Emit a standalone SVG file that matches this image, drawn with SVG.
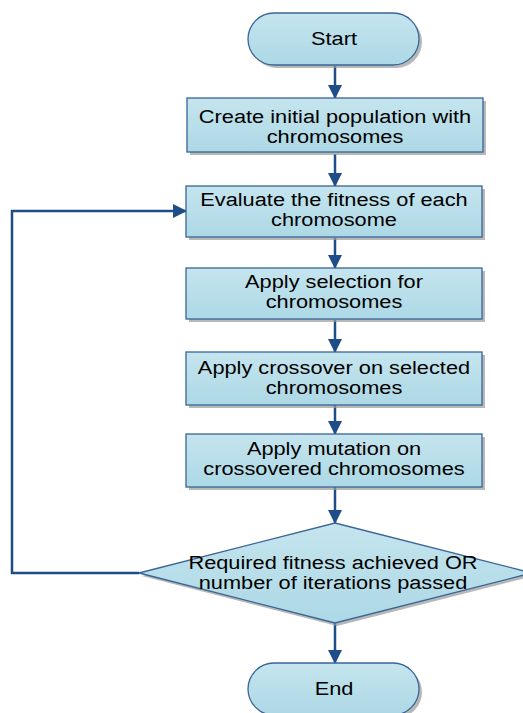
<svg xmlns="http://www.w3.org/2000/svg" width="523" height="713" viewBox="0 0 523 713">
<defs>
<linearGradient id="g" x1="0" y1="0" x2="0" y2="1">
<stop offset="0" stop-color="#c5e5ee"/>
<stop offset="1" stop-color="#acd8e5"/>
</linearGradient>
<marker id="arr" markerWidth="14" markerHeight="14" refX="13" refY="7" orient="auto" markerUnits="userSpaceOnUse">
<path d="M0,0 L14,7 L0,14 Z" fill="#1f4d87"/>
</marker>
</defs>
<style>
.s{fill:url(#g);stroke:#3a6597;stroke-width:1.3}
.sh{fill:#9a9a9a;opacity:0.7}
.t{font-family:"Liberation Sans",Arial,sans-serif;font-size:18px;fill:#000;text-anchor:middle}
.c{fill:none;stroke:#1f4d87;stroke-width:2.5}
</style>
<rect width="523" height="713" fill="#fff"/>
<g id="connectors">
<line class="c" x1="335" y1="66" x2="335" y2="98" marker-end="url(#arr)"/>
<line class="c" x1="335" y1="154" x2="335" y2="186" marker-end="url(#arr)"/>
<line class="c" x1="335" y1="238" x2="335" y2="268" marker-end="url(#arr)"/>
<line class="c" x1="335" y1="320" x2="335" y2="352" marker-end="url(#arr)"/>
<line class="c" x1="335" y1="405" x2="335" y2="434" marker-end="url(#arr)"/>
<line class="c" x1="335" y1="487" x2="335" y2="523" marker-end="url(#arr)"/>
<line class="c" x1="335" y1="623" x2="335" y2="663" marker-end="url(#arr)"/>
<polyline class="c" points="139,573 12,573 12,211 186,211" marker-end="url(#arr)"/>
</g>
<g id="start">
<rect class="sh" x="251" y="16" width="171" height="52" rx="26"/>
<rect class="s" x="248" y="13" width="171" height="52" rx="26"/>
<g transform="translate(334 0) scale(1.21 1)"><text class="t" x="0" y="45">Start</text></g>
</g>
<g id="create">
<rect class="sh" x="190" y="101" width="296" height="54"/>
<rect class="s" x="187" y="98" width="296" height="54"/>
<g transform="translate(335 0) scale(1.21 1)">
<text class="t" x="0" y="123">Create initial population with</text>
<text class="t" x="0" y="143">chromosomes</text>
</g>
</g>
<g id="evaluate">
<rect class="sh" x="189" y="189" width="296" height="51"/>
<rect class="s" x="186" y="186" width="296" height="51"/>
<g transform="translate(334 0) scale(1.21 1)">
<text class="t" x="0" y="206">Evaluate the fitness of each</text>
<text class="t" x="0" y="226">chromosome</text>
</g>
</g>
<g id="selection">
<rect class="sh" x="189" y="271" width="296" height="51"/>
<rect class="s" x="186" y="268" width="296" height="51"/>
<g transform="translate(334 0) scale(1.21 1)">
<text class="t" x="0" y="288">Apply selection for</text>
<text class="t" x="0" y="308">chromosomes</text>
</g>
</g>
<g id="crossover">
<rect class="sh" x="189" y="355" width="296" height="53"/>
<rect class="s" x="186" y="352" width="296" height="53"/>
<g transform="translate(334 0) scale(1.21 1)">
<text class="t" x="0" y="374">Apply crossover on selected</text>
<text class="t" x="0" y="394">chromosomes</text>
</g>
</g>
<g id="mutation">
<rect class="sh" x="189" y="437" width="296" height="53"/>
<rect class="s" x="186" y="434" width="296" height="53"/>
<g transform="translate(334 0) scale(1.21 1)">
<text class="t" x="0" y="455">Apply mutation on</text>
<text class="t" x="0" y="475">crossovered chromosomes</text>
</g>
</g>
<g id="decision">
<polygon class="sh" points="337,526 534,576 337,626 142,576"/>
<polygon class="s" points="335,523 532,573 335,623 139,573"/>
<g transform="translate(333 0) scale(1.21 1)">
<text class="t" x="0" y="569">Required fitness achieved OR</text>
<text class="t" x="0" y="589">number of iterations passed</text>
</g>
</g>
<g id="end">
<rect class="sh" x="251" y="666" width="171" height="52" rx="26"/>
<rect class="s" x="248" y="663" width="171" height="52" rx="26"/>
<g transform="translate(334 0) scale(1.21 1)"><text class="t" x="0" y="695">End</text></g>
</g>
</svg>
